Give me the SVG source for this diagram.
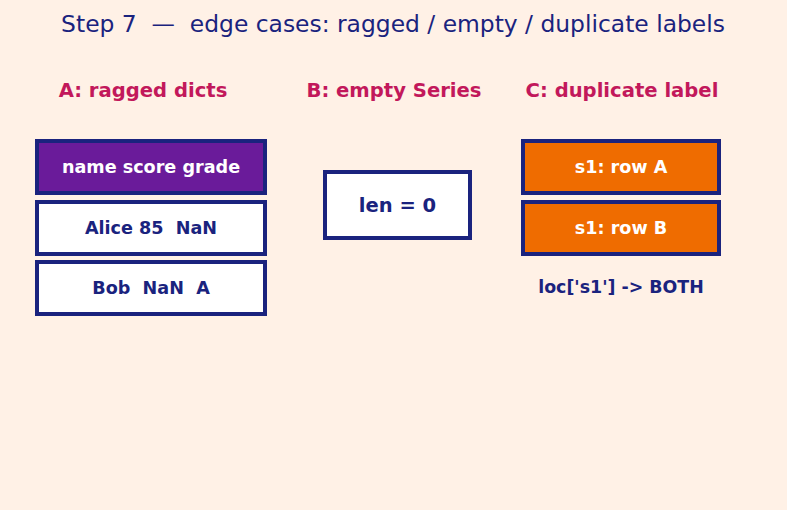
<svg xmlns="http://www.w3.org/2000/svg" width="787" height="510" viewBox="0 0 787 510">
<style>
text{font-family:"DejaVu Sans","Liberation Sans",sans-serif;text-anchor:middle;white-space:pre}
.title{font-size:23.4px;fill:#1a237e}
.sec{font-size:19.6px;font-weight:bold;fill:#c2185b}
.bt{font-size:17.6px;font-weight:bold}
.box{stroke:#1a237e;stroke-width:4}
.w{fill:#ffffff}
.p{fill:#6a1b9a}
.o{fill:#ef6c00}
.lt{fill:#ffffff}
.dk{fill:#1a237e}
</style>
<rect width="787" height="510" fill="#fff1e6"/>
<text class="title" x="393" y="32" xml:space="preserve">Step 7  —  edge cases: ragged / empty / duplicate labels</text>
<text class="sec" x="143" y="97">A: ragged dicts</text>
<text class="sec" x="394" y="97">B: empty Series</text>
<text class="sec" x="622" y="97">C: duplicate label</text>
<g id="a-header"><rect class="box p" x="37" y="141" width="228" height="52"/><text class="bt lt" x="151" y="173">name score grade</text></g>
<g id="a-alice"><rect class="box w" x="37" y="202" width="228" height="52"/><text class="bt dk" x="151" y="234" xml:space="preserve">Alice 85  NaN</text></g>
<g id="a-bob"><rect class="box w" x="37" y="262" width="228" height="52"/><text class="bt dk" x="151" y="294" xml:space="preserve">Bob  NaN  A</text></g>
<g id="b-empty"><rect class="box w" x="325" y="172" width="145" height="66"/><text class="dk" x="397.5" y="212" style="font-size:19.5px;font-weight:bold">len = 0</text></g>
<g id="c-rowA"><rect class="box o" x="523" y="141" width="196" height="52"/><text class="bt lt" x="621" y="173">s1: row A</text></g>
<g id="c-rowB"><rect class="box o" x="523" y="202" width="196" height="52"/><text class="bt lt" x="621" y="234">s1: row B</text></g>
<text class="dk" x="621" y="293" style="font-size:17.4px;font-weight:bold">loc['s1'] -&gt; BOTH</text>
<g id="connectors"/>
</svg>
